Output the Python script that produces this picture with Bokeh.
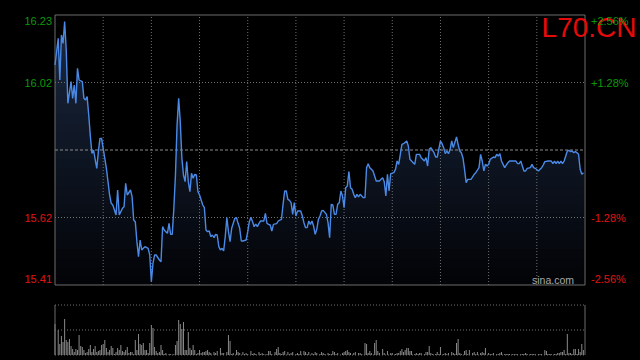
import numpy as np
from bokeh.plotting import figure
from bokeh.models import Range1d
from bokeh.core.properties import value
from bokeh.embed import file_html
from bokeh.resources import INLINE

# ---------------- data ----------------
title = "L70.CN"
prev_close = 15.82
pct_levels = [2.56, 1.28, -1.28, -2.56]
price_labels = ["16.23", "16.02", "15.62", "15.41"]
pct_labels = ["+2.56%", "+1.28%", "-1.28%", "-2.56%"]
session_minutes = 330
grid_minutes = [30, 60, 90, 120, 150, 180, 210, 240, 270, 300]

price_min = [0, 2, 3, 4, 5, 6, 7, 8, 10, 11, 12, 13, 14, 15, 17, 18, 19, 20, 21, 22,
             23, 24, 26, 27, 28, 29, 31, 32, 33, 34, 35, 36, 38, 39, 40, 42, 43, 44, 45, 47,
             48, 49, 50, 51, 52, 53, 54, 55, 56, 58, 59, 60, 61, 62, 63, 65, 66, 67, 68, 69,
             70, 71, 72, 73, 74, 75, 76, 77, 78, 79, 80, 81, 82, 83, 84, 85, 86, 87, 88, 89,
             90, 92, 93, 94, 95, 96, 97, 98, 99, 100, 101, 102, 103, 104, 105, 106, 107, 108, 109, 110,
             112, 113, 114, 115, 116, 117, 119, 120, 121, 122, 123, 124, 125, 126, 127, 128, 130, 131, 132, 133,
             134, 135, 136, 138, 139, 141, 142, 143, 144, 145, 146, 147, 148, 149, 150, 151, 153, 154, 155, 156,
             157, 158, 159, 160, 161, 162, 163, 164, 165, 166, 167, 169, 170, 171, 172, 173, 174, 175, 176, 177,
             178, 179, 180, 181, 182, 183, 184, 185, 186, 187, 188, 189, 190, 191, 192, 193, 194, 195, 196, 197,
             198, 200, 202, 203, 204, 205, 206, 207, 208, 209, 211, 212, 213, 214, 216, 217, 219, 220, 221, 222,
             223, 224, 225, 227, 228, 230, 231, 232, 233, 234, 236, 237, 238, 240, 241, 242, 243, 244, 245, 246,
             247, 248, 250, 251, 252, 253, 254, 255, 256, 257, 259, 261, 262, 264, 265, 266, 267, 268, 269, 270,
             271, 273, 274, 275, 276, 277, 278, 279, 280, 281, 282, 283, 287, 288, 289, 290, 291, 292, 293, 294,
             296, 297, 298, 299, 301, 302, 303, 304, 305, 307, 309, 310, 311, 312, 313, 314, 315, 316, 317, 318,
             319, 320, 321, 322, 323, 324, 325, 326, 327, 328, 329]
price = [16.075, 16.155, 16.030, 16.165, 16.140, 16.205, 16.120, 15.960, 16.025, 15.975, 16.015, 15.960, 16.065, 16.030, 16.025, 15.975, 15.970, 15.980, 15.925, 15.862,
         15.810, 15.820, 15.765, 15.815, 15.855, 15.855, 15.795, 15.765, 15.725, 15.685, 15.660, 15.655, 15.625, 15.700, 15.625, 15.645, 15.650, 15.720, 15.685, 15.700,
         15.680, 15.610, 15.605, 15.545, 15.500, 15.550, 15.520, 15.525, 15.530, 15.525, 15.505, 15.425, 15.480, 15.505, 15.505, 15.490, 15.485, 15.590, 15.580, 15.575,
         15.570, 15.600, 15.567, 15.567, 15.645, 15.745, 15.895, 15.975, 15.905, 15.795, 15.745, 15.725, 15.785, 15.725, 15.695, 15.750, 15.735, 15.747, 15.745, 15.695,
         15.685, 15.655, 15.647, 15.580, 15.575, 15.577, 15.560, 15.565, 15.557, 15.567, 15.565, 15.530, 15.520, 15.525, 15.517, 15.560, 15.617, 15.575, 15.545, 15.585,
         15.615, 15.617, 15.600, 15.585, 15.547, 15.547, 15.550, 15.575, 15.605, 15.618, 15.605, 15.590, 15.598, 15.590, 15.600, 15.607, 15.607, 15.630, 15.600, 15.597,
         15.595, 15.577, 15.597, 15.599, 15.607, 15.612, 15.657, 15.697, 15.697, 15.672, 15.669, 15.662, 15.627, 15.662, 15.622, 15.637, 15.637, 15.622, 15.602, 15.587,
         15.587, 15.607, 15.597, 15.607, 15.592, 15.567, 15.582, 15.612, 15.622, 15.637, 15.639, 15.627, 15.602, 15.557, 15.657, 15.655, 15.627, 15.627, 15.657, 15.662,
         15.697, 15.682, 15.647, 15.707, 15.712, 15.755, 15.707, 15.702, 15.687, 15.677, 15.687, 15.679, 15.687, 15.682, 15.677, 15.677, 15.767, 15.779, 15.767, 15.762,
         15.757, 15.727, 15.727, 15.732, 15.737, 15.725, 15.682, 15.747, 15.697, 15.749, 15.752, 15.762, 15.787, 15.777, 15.837, 15.839, 15.847, 15.832, 15.792, 15.787,
         15.782, 15.777, 15.807, 15.807, 15.797, 15.787, 15.797, 15.772, 15.822, 15.827, 15.812, 15.799, 15.799, 15.847, 15.839, 15.827, 15.809, 15.817, 15.809, 15.822,
         15.847, 15.827, 15.859, 15.837, 15.817, 15.812, 15.797, 15.762, 15.722, 15.732, 15.732, 15.747, 15.752, 15.767, 15.807, 15.787, 15.757, 15.777, 15.772, 15.777,
         15.792, 15.799, 15.797, 15.807, 15.802, 15.809, 15.787, 15.777, 15.767, 15.775, 15.782, 15.787, 15.787, 15.779, 15.779, 15.787, 15.772, 15.757, 15.757, 15.765,
         15.767, 15.777, 15.767, 15.765, 15.757, 15.762, 15.767, 15.775, 15.785, 15.787, 15.787, 15.779, 15.787, 15.779, 15.787, 15.779, 15.787, 15.779, 15.787, 15.802,
         15.817, 15.819, 15.815, 15.817, 15.812, 15.815, 15.812, 15.807, 15.762, 15.747, 15.752]

vol_min = [0, 2, 3, 4, 5, 6, 7, 8, 9, 10, 11, 12, 13, 14, 15, 16, 17, 18, 19, 20,
           21, 22, 23, 24, 25, 26, 27, 28, 29, 30, 31, 32, 33, 34, 35, 36, 37, 38, 39, 40,
           41, 42, 43, 44, 45, 46, 47, 48, 49, 50, 51, 52, 53, 54, 55, 56, 57, 58, 59, 60,
           61, 62, 63, 64, 65, 66, 67, 68, 69, 71, 72, 74, 75, 76, 77, 78, 79, 80, 81, 82,
           83, 84, 85, 86, 87, 88, 89, 90, 91, 92, 93, 94, 95, 96, 97, 99, 100, 101, 103, 104,
           105, 107, 108, 109, 110, 111, 113, 114, 115, 117, 118, 119, 120, 122, 123, 124, 125, 127, 128, 129,
           130, 132, 133, 134, 135, 137, 138, 139, 140, 141, 142, 143, 145, 146, 147, 148, 150, 151, 152, 153,
           155, 156, 157, 158, 160, 161, 162, 163, 165, 166, 167, 168, 170, 171, 172, 173, 174, 175, 176, 179,
           180, 181, 182, 183, 184, 186, 187, 189, 190, 191, 193, 194, 195, 196, 197, 199, 200, 201, 202, 204,
           205, 207, 209, 210, 212, 213, 214, 215, 216, 217, 218, 219, 220, 221, 222, 224, 225, 226, 227, 228,
           230, 231, 232, 233, 234, 235, 237, 238, 239, 240, 242, 243, 244, 245, 247, 248, 249, 250, 251, 252,
           253, 255, 256, 257, 258, 260, 261, 262, 263, 265, 266, 267, 268, 270, 271, 272, 273, 275, 276, 277,
           278, 280, 281, 282, 283, 285, 286, 287, 288, 290, 291, 292, 293, 294, 296, 297, 298, 299, 301, 302,
           303, 305, 306, 307, 308, 309, 311, 312, 313, 314, 315, 316, 317, 318, 319, 320, 321, 322, 323, 324,
           325, 326, 327, 328, 329]
vol = [31, 25, 11, 19, 13, 36, 15, 13, 16, 9, 6, 3, 6, 5, 20, 9, 8, 5, 2, 3,
       6, 10, 3, 6, 9, 3, 4, 5, 10, 11, 15, 7, 3, 5, 9, 7, 1, 3, 7, 5,
       10, 4, 3, 5, 8, 2, 3, 3, 1, 15, 5, 21, 11, 10, 12, 5, 5, 2, 12, 30,
       27, 8, 4, 2, 3, 10, 5, 1, 2, 1, 1, 1, 10, 14, 35, 31, 26, 33, 5, 5,
       23, 7, 5, 10, 5, 1, 2, 5, 2, 3, 3, 4, 5, 3, 2, 3, 2, 4, 7, 2,
       2, 3, 20, 14, 1, 2, 5, 3, 2, 3, 1, 2, 1, 4, 1, 2, 1, 3, 1, 2,
       1, 1, 4, 4, 1, 3, 6, 8, 2, 1, 3, 4, 3, 1, 2, 3, 1, 2, 1, 4,
       4, 3, 1, 3, 2, 1, 3, 2, 1, 3, 2, 1, 2, 1, 1, 4, 3, 1, 2, 2,
       3, 4, 5, 3, 2, 2, 3, 2, 2, 1, 12, 11, 2, 4, 2, 12, 15, 4, 2, 6,
       2, 4, 2, 2, 1, 2, 2, 4, 6, 3, 5, 7, 7, 4, 4, 1, 2, 1, 2, 2,
       1, 3, 3, 9, 2, 1, 1, 3, 1, 8, 1, 2, 1, 2, 3, 2, 1, 12, 16, 2,
       1, 4, 5, 1, 5, 2, 3, 1, 3, 2, 3, 2, 7, 2, 1, 1, 2, 1, 1, 2,
       3, 1, 1, 1, 1, 1, 1, 1, 1, 1, 1, 1, 2, 1, 1, 1, 1, 1, 1, 1,
       1, 5, 4, 1, 1, 1, 1, 1, 2, 2, 3, 3, 5, 1, 21, 2, 2, 1, 6, 6,
       1, 6, 3, 11, 5]
vol_max = 50

# ---------------- layout (pixels) ----------------
W, H = 640, 360
FL, FR = 54.5, 584.5      # main/volume frame left/right
FT, FB = 14.5, 284.5      # main frame top/bottom
VT, VB = 304.5, 354.5     # volume panel top/bottom

hi = prev_close * (1 + pct_levels[0] / 100)
lo = prev_close * (1 + pct_levels[-1] / 100)
levels = [prev_close * (1 + p / 100) for p in pct_levels]

ppm = (FR - FL) / session_minutes
ppp = (FB - FT) / (hi - lo)
vpp = (VB - VT) / vol_max
x_start, x_end = -FL / ppm, session_minutes + (W - FR) / ppm
y_start, y_end = lo - (H - FB) / ppp, hi + FT / ppp
v_start, v_end = -(H - VB) / vpp, VB / vpp


def X(px):
    return x_start + px / ppm


def Y(py):
    return y_end - py / ppp


p = figure(width=W, height=H, x_range=Range1d(x_start, x_end), y_range=Range1d(y_start, y_end),
           toolbar_location=None, output_backend="svg", min_border=0,
           x_axis_location=None, y_axis_location=None,
           background_fill_color="black", border_fill_color="black", outline_line_color=None)
p.extra_y_ranges = {"vol": Range1d(v_start, v_end)}
p.grid.visible = False

GRID = "#707070"
FRAME = "#6c6c6c"
GREEN = "#0a9a0a"
RED = "#e01414"
FONT = value("Liberation Sans")

# gradient fill under the price line (bands from top to bottom)
pm = np.array(price_min)
pr = np.array(price)
nb = 30
band_tops = np.linspace(hi, lo, nb + 1)
c_top = np.array([27, 41, 66])
c_bot = np.array([2, 3, 6])
for k in range(nb):
    t = (k + 0.5) / nb
    c = (c_top * (1 - t) + c_bot * t).round().astype(int)
    col = "#%02x%02x%02x" % tuple(c)
    p.varea(x=pm, y1=lo, y2=np.minimum(pr, band_tops[k]), fill_color=col, fill_alpha=1.0)

# grid
p.segment(x0=grid_minutes, y0=lo, x1=grid_minutes, y1=hi, line_color=GRID, line_dash="1 2", line_width=1)
p.segment(x0=[0, 0], y0=[levels[1], levels[2]], x1=[session_minutes] * 2, y1=[levels[1], levels[2]],
          line_color=GRID, line_dash="1 2", line_width=1)
p.segment(x0=[0], y0=[prev_close], x1=[session_minutes], y1=[prev_close],
          line_color="#8a8a8a", line_dash="3 2", line_width=1)

# frame
p.segment(x0=[0, 0, 0, session_minutes], y0=[hi, lo, lo, lo],
          x1=[session_minutes, session_minutes, 0, session_minutes], y1=[hi, lo, hi, hi],
          line_color=FRAME, line_width=1)

# price line
p.line(pm, pr, line_color="#4a8ae6", line_width=1.4)

# volume panel
p.vbar(x=vol_min, top=vol, bottom=0, width=0.62, y_range_name="vol",
       fill_color="#8a8a8a", line_color=None)
p.segment(x0=[0, 0, 0], y0=[0, vol_max / 2, vol_max], x1=[session_minutes] * 3,
          y1=[0, vol_max / 2, vol_max], y_range_name="vol",
          line_color=GRID, line_dash="1 2", line_width=1)
p.segment(x0=[0, session_minutes], y0=[0, 0], x1=[0, session_minutes], y1=[vol_max, vol_max],
          y_range_name="vol", line_color=FRAME, line_width=1)

# title
p.text(x=[X(636)], y=[Y(27)], text=[title], text_align="right", text_baseline="alphabetic",
       text_color="#e60a0a", text_font=FONT, text_font_size="28px")

# tick labels
inset = [6.0 / ppp, 0, 0, -6.0 / ppp]
label_y = [lv - d for lv, d in zip(levels, inset)]
label_col = [GREEN if v > 0 else RED for v in pct_levels]
p.text(x=[X(51.5)] * 4, y=label_y, text=price_labels, text_align="right", text_baseline="middle",
       text_color=label_col, text_font=FONT, text_font_size="11px")
p.text(x=[X(590.5)] * 4, y=label_y, text=pct_labels, text_align="left", text_baseline="middle",
       text_color=label_col, text_font=FONT, text_font_size="11px")

# watermark
p.text(x=[X(573.5)], y=[Y(279.5)], text=["sina.com"], text_align="right", text_baseline="middle",
       text_color="#a8a8a8", text_font=FONT, text_font_size="10.5px")

html = file_html(p, INLINE, title=title)
html = html.replace("<head>", "<head><style>html,body{margin:0;padding:0;background:#000;overflow:hidden}</style>", 1)
open("out.html", "w").write(html)
